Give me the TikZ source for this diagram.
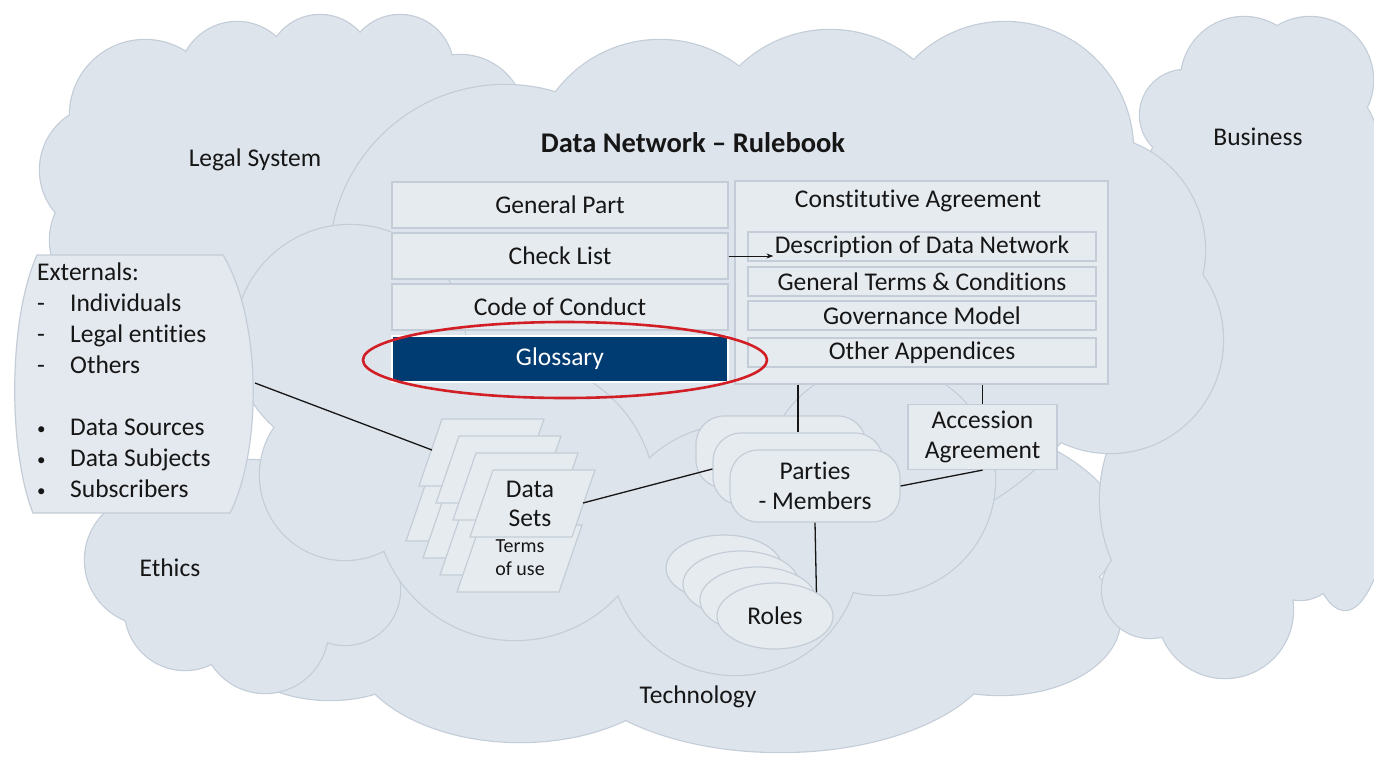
\documentclass[tikz,border=0pt]{standalone}
\usepackage{fontspec}
\setmainfont{Carlito}[Ligatures={TeX,NoCommon}]
\usetikzlibrary{shapes.geometric,arrows.meta}
\definecolor{cloudfill}{HTML}{DDE4EC}
\definecolor{cloudline}{HTML}{C3CDD8}
\definecolor{boxfill}{HTML}{E6EBF0}
\definecolor{boxline}{HTML}{C4CDD7}
\definecolor{extfill}{HTML}{E4E9EF}
\definecolor{glossblue}{HTML}{003B72}
\definecolor{ringred}{HTML}{D21F26}
\definecolor{ink}{HTML}{161616}

% union of ellipses: outline first, fill on top
\newcommand{\cloudblob}[1]{%
  \foreach \cx/\cy/\rx/\ry in {#1}
    \draw[cloudline, line width=2.4pt] (\cx,\cy) ellipse [x radius=\rx pt, y radius=\ry pt];
  \foreach \cx/\cy/\rx/\ry in {#1}
    \fill[cloudfill] (\cx,\cy) ellipse [x radius=\rx pt, y radius=\ry pt];
}
\newcommand{\smallbul}{\raisebox{1.5pt}{\fontsize{17}{17}\selectfont\textbullet}}

\begin{document}
\begin{tikzpicture}[x=1pt, y=-1pt,
    txt/.style={font=\fontsize{25.5}{30}\selectfont, text=ink, align=center},
    rbox/.style={txt, draw=boxline, fill=boxfill, line width=1.2pt, minimum width=336pt, minimum height=46pt, inner sep=0pt},
    sbox/.style={txt, draw=boxline, fill=boxfill, line width=1.2pt, minimum width=348pt, minimum height=29pt, inner sep=0pt},
    pbox/.style={txt, draw=boxline, fill=boxfill, line width=1.2pt, rounded corners=28pt, minimum width=170pt, minimum height=72pt, inner sep=0pt},
    rbub/.style={txt, ellipse, draw=boxline, fill=boxfill, line width=1.2pt, minimum width=116pt, minimum height=66pt, inner sep=0pt},
    sheet/.style={draw=boxline, fill=boxfill, line width=1.2pt},
    wire/.style={draw=ink, line width=1.3pt}]
  \fill[white] (0,0) rectangle (1374,756);
  \useasboundingbox (0,0) rectangle (1374,756);

  % clouds, back to front
  \cloudblob{690/530/430/150, 680/600/300/110, 330/640/100/60, 520/640/170/102, 780/640/220/112, 1000/620/120/75}
  \cloudblob{150/560/65/65, 185/610/60/60, 265/630/63/63, 345/590/55/55, 250/550/100/90, 230/600/60/60, 300/600/50/50}
  \cloudblob{145/115/75/75, 237/80/58/58, 320/68/53/53, 400/68/53/53, 460/120/65/65, 105/170/65/65, 115/240/65/65, 260/190/140/120, 420/200/100/100, 360/120/45/45, 280/110/50/50, 195/130/50/50}
  \cloudblob{1185/115/45/45, 1244/80/63/63, 1310/80/63/63, 1250/200/110/110, 1340/210/60/70, 1330/350/60/60, 1315/480/65/65, 1300/560/40/40, 1225/610/68/68, 1150/590/48/48, 1250/380/130/220, 1160/300/80/80, 1190/500/90/120, 1345/350/60/260, 1265/560/45/45, 1190/580/40/40}
  \cloudblob{505/260/175/175, 660/170/130/130, 830/160/130/130, 1005/150/128/128, 1090/250/115/115, 1110/340/113/113, 720/340/380/230}
  \cloudblob{350/340/115/115, 345/475/85/85, 515/500/140/140, 735/550/125/125, 880/480/115/115}

  \node[txt] (legal) at (255,160) {Legal System};
  \node[txt] (business) at (1258,137) {Business};
  \node[txt] (ethics) at (170,568) {Ethics};
  \node[txt] (techno) at (698,697) {Technology};

  % externals
  \filldraw[draw=boxline, fill=extfill, line width=1.2pt] (37,255) -- (223,255) .. controls (262,320) and (262,450) .. (230,513) -- (33,513) .. controls (8,450) and (8,320) .. (37,255) -- cycle;
  \node[font=\fontsize{25.5}{31}\selectfont, text=ink, anchor=north west, inner sep=0pt] (ext) at (37,259)
    {\begin{tabular}{@{}p{33pt}@{}l@{}}
      \multicolumn{2}{@{}l@{}}{Externals:}\\
      -&Individuals\\
      -&Legal entities\\
      -&Others\\[31pt]
      \smallbul&Data Sources\\
      \smallbul&Data Subjects\\
      \smallbul&Subscribers
     \end{tabular}};
  \coordinate (extport) at (255,383);

  % rulebook
  \node[txt, font=\bfseries\fontsize{28.5}{32}\selectfont] (title) at (693,143) {Data Network – Rulebook};
  \node[rbox] (genpart) at (560,205) {General Part};
  \node[rbox] (check) at (560,256) {Check List};
  \node[rbox] (conduct) at (560,307) {Code of Conduct};
  \node[rbox, fill=glossblue, draw=white, text=white] (gloss) at (560,359) {Glossary};

  \node[draw=boxline, fill=boxfill, line width=1.2pt, minimum width=373pt, minimum height=203pt, inner sep=0pt] (const) at (921.5,282.5) {};
  \node[txt] (consttitle) at (918,201) {Constitutive Agreement};
  \node[sbox] (desc) at (922,246.5) {Description of Data Network};
  \node[sbox] (terms) at (922,281.5) {General Terms \& Conditions};
  \node[sbox] (govern) at (922,315.5) {Governance Model};
  \node[sbox] (append) at (922,352.5) {Other Appendices};
  \draw[wire, line width=1pt, -{Stealth[length=7pt, width=5pt]}] (check.east) -- ([xshift=26pt]desc.west |- check.east);

  \node[draw=ringred, line width=2.6pt, ellipse, minimum width=404pt, minimum height=76pt] (ring) at (565,360) {};

  % data sets
  \foreach \i in {3,2,1,0} {
    \filldraw[sheet] ({480-17*\i},{525-17*\i}) -- ++(102,0) -- ++(-23,67) -- ++(-102,0) -- cycle;
    \filldraw[sheet] ({493-17*\i},{470-17*\i}) -- ++(102,0) -- ++(-23,67) -- ++(-102,0) -- cycle;
  }
  \node[txt, font=\fontsize{25.5}{29}\selectfont] (dsets) at (530,504) {Data\\Sets};
  \node[txt, font=\fontsize{20}{23}\selectfont] (touse) at (520,558) {Terms\\of use};
  \coordinate (dsback) at (432,450);
  \coordinate (dsport) at (583,503);

  % parties and roles
  \foreach \i in {2,1}
    \node[pbox] (parties\i) at ({815-17*\i},{486-17*\i}) {};
  \node[pbox] (parties) at (815,486) {Parties\\- Members};
  \foreach \i in {3,2,1}
    \node[rbub] (roles\i) at ({775-17*\i},{616-16*\i}) {};
  \node[rbub] (roles) at (775,616) {Roles};

  \node[rbox, minimum width=149pt, minimum height=65pt] (acc) at (982.5,437) {Accession\\Agreement};

  % connectors
  \draw[wire] (extport) -- (dsback);
  \draw[wire] (dsport) -- (parties1.west);
  \draw[wire] (parties1.north |- const.south) -- (parties1.north);
  \draw[wire] (acc.north |- const.south) -- (acc.north);
  \draw[wire] (acc.south) -- (parties.east);
  \draw[wire] (parties.south) -- (roles.north east);
\end{tikzpicture}
\end{document}
